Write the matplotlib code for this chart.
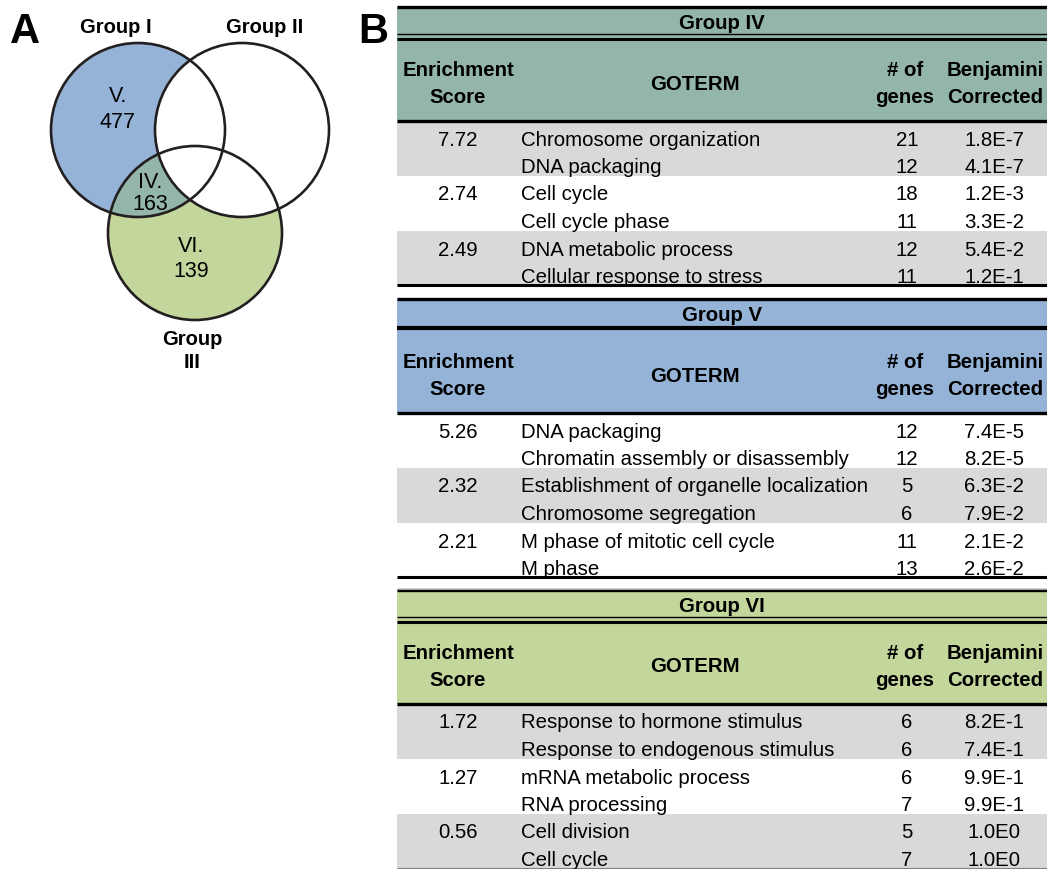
import matplotlib
matplotlib.use("Agg")
import matplotlib.pyplot as plt
from matplotlib.patches import Circle, Rectangle

plt.rcParams["font.family"] = ["Liberation Sans", "DejaVu Sans"]

# Venn diagram data
venn_sets = ["Group I", "Group II", "Group III"]
region_ids = ["V.", "IV.", "VI."]
region_counts = [477, 163, 139]

# GO term enrichment tables
table_titles = ["Group IV", "Group V", "Group VI"]

iv_scores = [7.72, 2.74, 2.49]
iv_terms = ["Chromosome organization", "DNA packaging", "Cell cycle",
            "Cell cycle phase", "DNA metabolic process",
            "Cellular response to stress"]
iv_genes = [21, 12, 18, 11, 12, 11]
iv_benj = [1.8e-7, 4.1e-7, 1.2e-3, 3.3e-2, 5.4e-2, 1.2e-1]

v_scores = [5.26, 2.32, 2.21]
v_terms = ["DNA packaging", "Chromatin assembly or disassembly",
           "Establishment of organelle localization",
           "Chromosome segregation", "M phase of mitotic cell cycle",
           "M phase"]
v_genes = [12, 12, 5, 6, 11, 13]
v_benj = [7.4e-5, 8.2e-5, 6.3e-2, 7.9e-2, 2.1e-2, 2.6e-2]

vi_scores = [1.72, 1.27, 0.56]
vi_terms = ["Response to hormone stimulus", "Response to endogenous stimulus",
            "mRNA metabolic process", "RNA processing", "Cell division",
            "Cell cycle"]
vi_genes = [6, 6, 6, 7, 5, 7]
vi_benj = [8.2e-1, 7.4e-1, 9.9e-1, 9.9e-1, 1.0, 1.0]

BLUE = "#95b3d7"
TEAL = "#93b6a8"
GREEN = "#c3d69b"
GREY = "#d9d9d9"
FS = 14.7


def sci(v):
    # 1.8e-07 -> "1.8E-7"
    m, e = f"{v:.1E}".split("E")
    return f"{m}E{int(e)}"


fig = plt.figure(figsize=(10.47, 8.69), dpi=100)
ax = fig.add_axes([0, 0, 1, 1])
ax.set_xlim(0, 1047)
ax.set_ylim(869, 0)
ax.axis("off")

# ---- panel A: venn ----
ax.text(25, 43, "A", fontsize=30, fontweight="bold", ha="center", va="baseline")
R = 87
centres = [(138, 130), (242, 130), (195, 233)]
c1 = Circle(centres[0], R, fc=BLUE, ec="none", zorder=1)
c3 = Circle(centres[2], R, fc=GREEN, ec="none", zorder=1)
ax.add_patch(c1)
ax.add_patch(c3)
overlap = Circle(centres[0], R, fc=TEAL, ec="none", zorder=2)
ax.add_patch(overlap)
overlap.set_clip_path(c3)
ax.add_patch(Circle(centres[1], R, fc="white", ec="none", zorder=3))
for c in centres:
    ax.add_patch(Circle(c, R, fc="none", ec="#231f20", lw=1.9, zorder=4))

ax.text(116, 33, venn_sets[0], fontsize=14.5, fontweight="bold", ha="center", va="baseline")
ax.text(265, 33, venn_sets[1], fontsize=14.5, fontweight="bold", ha="center", va="baseline")
g3a, g3b = venn_sets[2].split(" ")
ax.text(192, 345, g3a, fontsize=14.5, fontweight="bold", ha="center", va="baseline")
ax.text(192, 368, g3b, fontsize=14.5, fontweight="bold", ha="center", va="baseline")

label_pos = [(118, 102, 128), (150, 188, 210), (191, 252, 277)]
for (x, y1, y2), rid, cnt in zip(label_pos, region_ids, region_counts):
    ax.text(x, y1, rid, fontsize=15.5, ha="center", va="baseline", zorder=5)
    ax.text(x, y2, str(cnt), fontsize=15.5, ha="center", va="baseline", zorder=5)

# ---- panel B: tables ----
ax.text(373, 43, "B", fontsize=30, fontweight="bold", ha="center", va="baseline")

X0, X1 = 397, 1047
ROW_H = 27.5
col_score, col_term, col_gene, col_benj = 458, 521, 907, 994

tables = [
    (iv_scores, iv_terms, iv_genes, iv_benj, TEAL, 7, True, [True, False, True]),
    (v_scores, v_terms, v_genes, v_benj, BLUE, 299, False, [False, True, False]),
    (vi_scores, vi_terms, vi_genes, vi_benj, GREEN, 590, True, [True, False, True]),
]

for title, (scores, terms, genes, benj, colour, T, double, shade) in zip(table_titles, tables):
    # header block
    ax.add_patch(Rectangle((X0, T), X1 - X0, 114, fc=colour, ec="none"))
    ax.hlines(T, X0, X1, color="black", lw=2.4)
    if double:
        ax.hlines(T + 27, X0, X1, color="black", lw=1.0)
        ax.hlines(T + 32, X0, X1, color="black", lw=2.2)
    else:
        ax.hlines(T + 29, X0, X1, color="black", lw=3.0)
    ax.text((X0 + X1) / 2, T + 22, title, fontsize=FS, fontweight="bold",
            ha="center", va="baseline")
    hdr = dict(fontsize=FS, fontweight="bold", ha="center", va="baseline")
    ax.text(col_score, T + 69, "Enrichment", **hdr)
    ax.text(col_score, T + 96, "Score", **hdr)
    ax.text(695, T + 82.5, "GOTERM", **hdr)
    ax.text(col_gene - 2, T + 69, "# of", **hdr)
    ax.text(col_gene - 2, T + 96, "genes", **hdr)
    ax.text(col_benj + 1, T + 69, "Benjamini", **hdr)
    ax.text(col_benj + 1, T + 96, "Corrected", **hdr)

    top = T + 114
    for k, grey in enumerate(shade):
        if grey:
            ax.add_patch(Rectangle((X0, top + 2 * k * ROW_H), X1 - X0, 2 * ROW_H,
                                   fc=GREY, ec="none"))
    ax.hlines(top, X0, X1, color="black", lw=2.4)

    for i in range(len(terms)):
        yb = top + i * ROW_H + 24.5
        if i % 2 == 0:
            ax.text(col_score, yb, f"{scores[i // 2]:.2f}", fontsize=FS,
                    ha="center", va="baseline")
        ax.text(col_term, yb, terms[i], fontsize=FS, ha="left", va="baseline")
        ax.text(col_gene, yb, str(genes[i]), fontsize=FS, ha="center", va="baseline")
        ax.text(col_benj, yb, sci(benj[i]), fontsize=FS, ha="center", va="baseline")

    bottom = top + len(terms) * ROW_H
    if T < 500:
        ax.hlines(bottom - 1, X0, X1, color="black", lw=2.2)
    else:
        ax.hlines(bottom - 1, X0, X1, color="#808080", lw=0.8)

ax.hlines(589, X0, X1, color="#a0a0a0", lw=0.8)

fig.savefig("out.png", dpi=100)
